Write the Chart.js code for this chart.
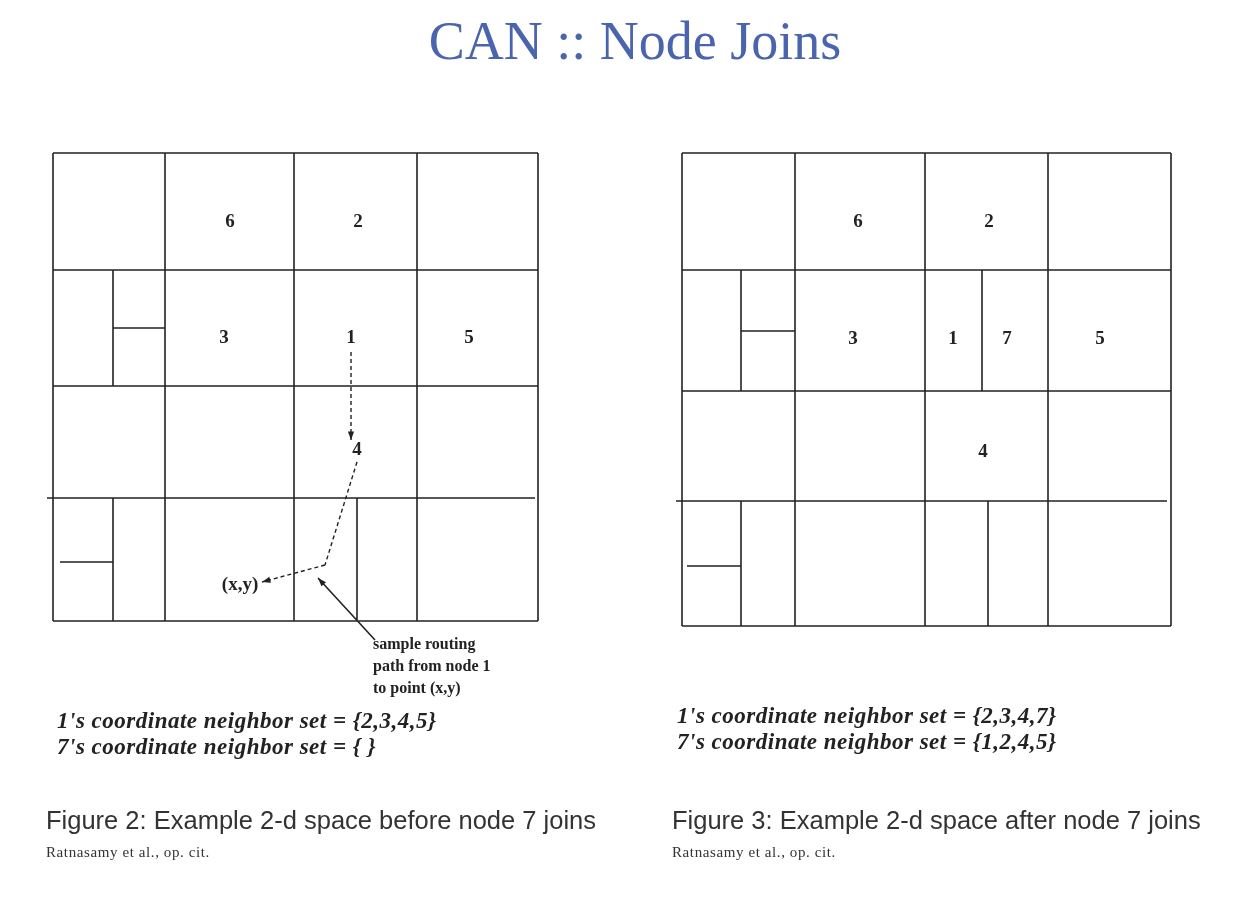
<!DOCTYPE html>
<html><head><meta charset="utf-8">
<script src="https://cdn.jsdelivr.net/npm/chart.js@4/dist/chart.umd.min.js"></script>
<style>html,body{margin:0;padding:0;background:#fff;overflow:hidden}#w{width:1254px;height:902px;position:relative}</style>
</head><body><div id="w"><canvas id="c"></canvas></div>
<script>
// Solid line segments [x1,y1,x2,y2] in diagram units
const solidLeft = [
 [53,153,538,153],[538,153,538,621],[538,621,53,621],[53,621,53,153],
 [53,270,538,270],[53,386,538,386],[47,498,535,498],
 [165,153,165,621],[294,153,294,621],[417,153,417,621],
 [113,270,113,386],[113,328,165,328],[113,498,113,621],[60,562,113,562],
 [357,498,357,621]
];
const solidRight = [
 [682,153,1171,153],[1171,153,1171,626],[1171,626,682,626],[682,626,682,153],
 [682,270,1171,270],[682,391,1171,391],[676,501,1167,501],
 [795,153,795,626],[925,153,925,626],[1048,153,1048,626],
 [741,270,741,391],[741,331,795,331],[741,501,741,626],[687,566,741,566],
 [982,270,982,391],[988,501,988,626]
];
const dashedSegs = [[351,352,351,440],[357,462,325,565],[325,565,262,582]];
const arrowSegs = [[375,640,318,578]];
const cellLabels = [
 ["6",230,222],["2",358,222],["3",224,338],["1",351,338],["5",469,338],["4",357,450],["(x,y)",240,585],
 ["6",858,222],["2",989,222],["3",853,339],["1",953,339],["7",1007,339],["5",1100,339],["4",983,452]
];
const noteLines = ["sample routing","path from node 1","to point (x,y)"];
const neighborLeft = ["1's coordinate neighbor set = {2,3,4,5}","7's coordinate neighbor set = { }"];
const neighborRight = ["1's coordinate neighbor set = {2,3,4,7}","7's coordinate neighbor set = {1,2,4,5}"];
const captions = ["Figure 2: Example 2-d space before node 7 joins","Figure 3: Example 2-d space after node 7 joins"];
const citation = "Ratnasamy et al., op. cit.";
const title = "CAN :: Node Joins";

function segData(segs){const d=[];segs.forEach(s=>{d.push({x:s[0],y:s[1]},{x:s[2],y:s[3]},{x:s[2],y:null});});return d;}

const textPlugin = {
 id:'texts',
 afterDatasetsDraw(chart){
  const ctx=chart.ctx, X=chart.scales.x, Y=chart.scales.y;
  const px=v=>X.getPixelForValue(v), py=v=>Y.getPixelForValue(v);
  ctx.save();
  ctx.fillStyle='#222';
  const heads=[dashedSegs[0],dashedSegs[2],arrowSegs[0]];
  heads.forEach(s=>{const x2=px(s[2]),y2=py(s[3]),a=Math.atan2(y2-py(s[1]),x2-px(s[0]));
   ctx.beginPath();ctx.moveTo(x2,y2);ctx.lineTo(x2-9*Math.cos(a-0.35),y2-9*Math.sin(a-0.35));
   ctx.lineTo(x2-9*Math.cos(a+0.35),y2-9*Math.sin(a+0.35));ctx.closePath();ctx.fill();});
  ctx.textBaseline='middle';
  ctx.fillStyle='#222';ctx.textAlign='center';ctx.font='bold 19px "Liberation Serif"';
  cellLabels.forEach(l=>ctx.fillText(l[0],px(l[1]),py(l[2])));
  ctx.textAlign='left';ctx.font='bold 16px "Liberation Serif"';
  noteLines.forEach((t,i)=>ctx.fillText(t,px(373),py(645+i*22)));
  ctx.font='italic bold 23px "Liberation Serif"';
  ctx.letterSpacing='0.5px';
  neighborLeft.forEach((t,i)=>ctx.fillText(t,px(57),py(722+i*26)));
  neighborRight.forEach((t,i)=>ctx.fillText(t,px(677),py(717+i*26)));
  ctx.letterSpacing='0px';
  ctx.fillStyle='#333';ctx.font='25.5px "Liberation Sans"';
  ctx.fillText(captions[0],px(46),py(822));ctx.fillText(captions[1],px(672),py(822));
  ctx.font='15px "Liberation Serif"';
  ctx.letterSpacing='0.6px';
  ctx.fillText(citation,px(46),py(853));ctx.fillText(citation,px(672),py(853));
  ctx.letterSpacing='0px';
  ctx.fillStyle='#4a65ad';ctx.textAlign='center';ctx.font='54px "Liberation Serif"';
  ctx.fillText(title,px(635),py(45));
  ctx.restore();
 }
};

new Chart(document.getElementById('c'),{
 type:'scatter',
 data:{datasets:[
  {data:segData(solidLeft.concat(solidRight,arrowSegs)),showLine:true,spanGaps:false,borderColor:'#222',borderWidth:1.6,pointRadius:0},
  {data:segData(dashedSegs),showLine:true,spanGaps:false,borderColor:'#222',borderWidth:1.4,borderDash:[4,3],pointRadius:0}
 ]},
 options:{responsive:true,maintainAspectRatio:false,animation:false,
  layout:{padding:0},
  plugins:{legend:{display:false},tooltip:{enabled:false}},
  scales:{x:{type:'linear',min:0,max:1254,display:false},y:{type:'linear',min:0,max:902,reverse:true,display:false}}},
 plugins:[textPlugin]
});
</script></body></html>
